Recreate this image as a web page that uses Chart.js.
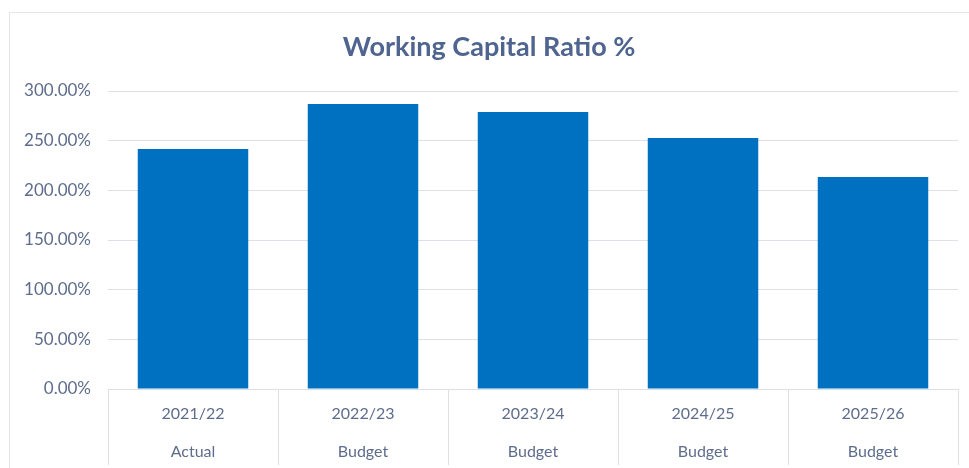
<!DOCTYPE html>
<html>
<head>
<meta charset="utf-8">
<script src="https://cdn.jsdelivr.net/npm/chart.js@4.4.1/dist/chart.umd.min.js"></script>
<style>
  html, body { margin: 0; padding: 0; background: #fff; }
  #wrap { position: relative; width: 969px; height: 468px; overflow: hidden; }
  #frame { position: absolute; left: 9px; top: 12px; width: 980px; height: 480px;
           border: 1px solid #e3e5ea; box-sizing: border-box; }
  #chart { position: absolute; left: 0; top: 0; }
</style>
</head>
<body>
<div id="wrap">
  <div id="frame"></div>
  <canvas id="chart" width="969" height="468"></canvas>
</div>
<script>
/* ── DATA ─────────────────────────────────────────────── */
const years = ['2021/22', '2022/23', '2023/24', '2024/25', '2025/26'];
const kinds = ['Actual', 'Budget', 'Budget', 'Budget', 'Budget'];
const ratios = [241.6, 286.9, 278.9, 252.7, 213.4];
const yTicks = { min: 0, max: 300, step: 50 };

const FONT = 'Lato, "Open Sans", sans-serif';
const TEXT = '#5e6d8c';
const LINE = '#dde0e6';

const labels = years.map((y, i) => [y, kinds[i]]);

new Chart(document.getElementById('chart'), {
  type: 'bar',
  data: {
    labels,
    datasets: [{
      label: 'Working Capital Ratio %',
      data: ratios,
      backgroundColor: '#0070c0',
      borderWidth: 0,
      barPercentage: 0.65,
      categoryPercentage: 1,
    }],
  },
  options: {
    responsive: false,
    animation: false,
    layout: { padding: { left: 20, right: 11, top: 0, bottom: 0 } },
    plugins: {
      legend: { display: false },
      tooltip: { enabled: false },
      title: {
        display: true,
        text: 'Working Capital Ratio %',
        color: '#4f6590',
        font: { family: FONT, size: 27, weight: 'bold', lineHeight: 1.1 },
        padding: { top: 32, bottom: 29.3 },
      },
    },
    scales: {
      x: {
        afterFit: s => { s.height = 79; },
        border: { display: true, color: LINE },
        grid: {
          offset: true,
          drawOnChartArea: false,
          drawTicks: true,
          tickLength: 76,
          color: LINE,
        },
        ticks: {
          color: TEXT,
          padding: -70,
          maxRotation: 0,
          font: { family: FONT, size: 16, lineHeight: 2.35 },
        },
      },
      y: {
        min: yTicks.min,
        max: yTicks.max,
        afterFit: s => { s.width = 88; },
        border: { display: false },
        grid: { color: LINE, drawTicks: false },
        ticks: {
          stepSize: yTicks.step,
          color: TEXT,
          padding: 17,
          font: { family: FONT, size: 17 },
          callback: v => v.toFixed(2) + '%',
        },
      },
    },
  },
});
</script>
</body>
</html>
